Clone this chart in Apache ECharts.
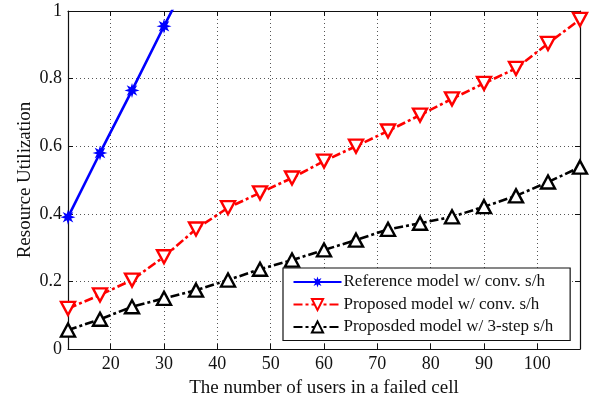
<!DOCTYPE html>
<html><head><meta charset="utf-8">
<script src="https://cdn.jsdelivr.net/npm/echarts@6/dist/echarts.min.js"></script>
<style>html,body{margin:0;padding:0;background:#fff}#c{width:592px;height:400px}</style>
</head><body><div id="c"></div>
<script>
const users = [12,18,24,30,36,42,48,54,60,66,72,78,84,90,96,102,108];
const refModel = [0.39,0.58,0.765,0.955,1.14];
const propConv = [0.12,0.16,0.204,0.273,0.355,0.418,0.462,0.506,0.556,0.60,0.645,0.692,0.74,0.786,0.83,0.904,0.975];
const prop3step = [0.056,0.088,0.125,0.15,0.174,0.204,0.236,0.263,0.293,0.322,0.354,0.372,0.391,0.421,0.453,0.494,0.538];
const xTicks = [20,30,40,50,60,70,80,90,100];
const seriesNames = ['Reference model w/ conv. s/h','Proposed model w/ conv. s/h','Proposded model w/ 3-step s/h'];

function starPath(){
  let d='';
  for(let i=0;i<16;i++){
    const a=Math.PI*i/8 - Math.PI/2;
    const r=(i%2===0)?10:4.6;
    const x=(10+r*Math.cos(a)).toFixed(2), y=(10+r*Math.sin(a)).toFixed(2);
    d+=(i===0?'M':'L')+x+' '+y+' ';
  }
  return 'path://'+d+'Z';
}
const pair = (vals)=>vals.map((v,i)=>[users[i],v]);
const font = 'Liberation Serif';
const gridLine = {show:true,lineStyle:{color:'#555',width:1,type:[1,3]}};

const chart = echarts.init(document.getElementById('c'),null,{renderer:'canvas'});
chart.setOption({
  animation:false,
  backgroundColor:'#fff',
  grid:{left:68,right:12,top:11,bottom:51,containLabel:false,outerBoundsMode:'none'},
  xAxis:[{
    type:'value',min:12,max:108,position:'bottom',
    name:'The number of users in a failed cell',nameLocation:'middle',nameGap:30,
    nameTextStyle:{fontFamily:font,fontSize:19,color:'#111'},
    axisLine:{show:true,onZero:false,lineStyle:{color:'#111',width:1.2}},
    axisTick:{show:true,inside:true,length:5,customValues:xTicks,lineStyle:{color:'#111'}},
    axisLabel:{customValues:xTicks,fontFamily:font,fontSize:18,color:'#111',margin:6},
    splitLine:gridLine
  },{
    type:'value',min:12,max:108,position:'top',
    axisLine:{show:true,onZero:false,lineStyle:{color:'#111',width:1.2}},
    axisTick:{show:true,inside:true,length:5,customValues:xTicks,lineStyle:{color:'#111'}},
    axisLabel:{show:false},splitLine:{show:false}
  }],
  yAxis:[{
    type:'value',min:0,max:1,interval:0.2,position:'left',
    name:'Resource Utilization',nameLocation:'middle',nameGap:33,nameRotate:90,nameMoveOverlap:false,
    nameTextStyle:{fontFamily:font,fontSize:19,color:'#111'},
    axisLine:{show:true,onZero:false,lineStyle:{color:'#111',width:1.2}},
    axisTick:{show:true,inside:true,length:5,lineStyle:{color:'#111'}},
    axisLabel:{fontFamily:font,fontSize:18,color:'#111',margin:6},
    splitLine:gridLine
  },{
    type:'value',min:0,max:1,interval:0.2,position:'right',
    axisLine:{show:true,onZero:false,lineStyle:{color:'#111',width:1.2}},
    axisTick:{show:true,inside:true,length:5,lineStyle:{color:'#111'}},
    axisLabel:{show:false},splitLine:{show:false}
  }],
  legend:{
    orient:'vertical',left:283,top:268,
    padding:[5.5,17,5,9.5],
    itemWidth:48,itemHeight:14,itemGap:5.5,
    backgroundColor:'#fff',borderColor:'#111',borderWidth:1.2,borderRadius:0,
    textStyle:{fontFamily:font,fontSize:17,lineHeight:17,color:'#111',padding:[0,0,0,-3]},
    data:seriesNames
  },
  series:[{
    name:seriesNames[0],type:'line',data:pair(refModel),
    lineStyle:{color:'#0000ff',width:2.6,type:'solid'},
    itemStyle:{color:'#0000ff'},
    symbol:starPath(),symbolSize:15,showAllSymbol:true,clip:true
  },{
    name:seriesNames[1],type:'line',data:pair(propConv),
    lineStyle:{color:'#ff0000',width:2.6,type:[9,3,3,3]},
    itemStyle:{color:'#fff',borderColor:'#ff0000',borderWidth:2.4},
    symbol:'triangle',symbolRotate:180,symbolSize:[14,13],showAllSymbol:true
  },{
    name:seriesNames[2],type:'line',data:pair(prop3step),
    lineStyle:{color:'#000',width:2.6,type:[9,3,3,3]},
    itemStyle:{color:'#fff',borderColor:'#000',borderWidth:2.4},
    symbol:'triangle',symbolSize:[14,13],showAllSymbol:true
  }]
});
</script></body></html>
